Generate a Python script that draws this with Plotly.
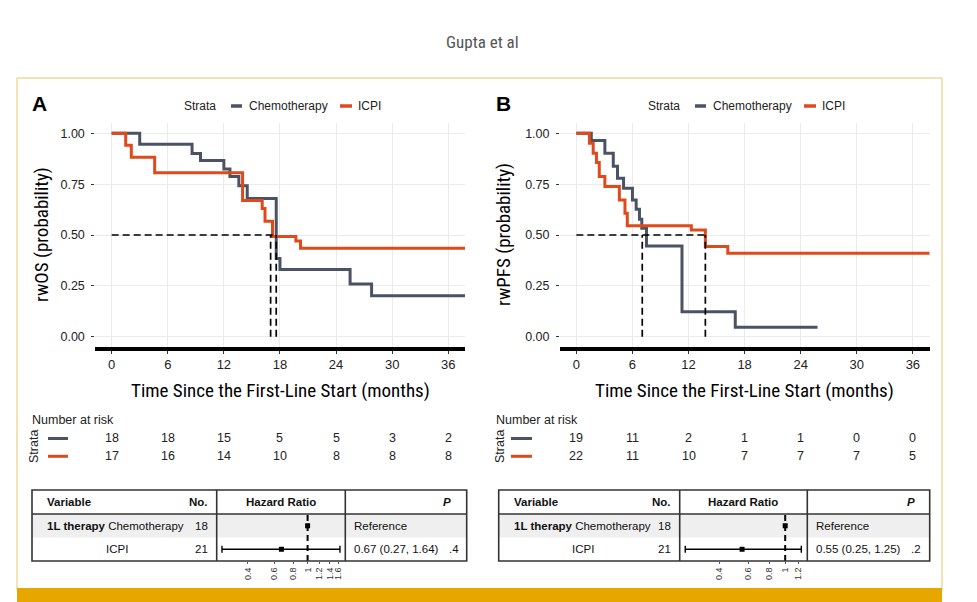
import plotly.graph_objects as go

# The page body has an 8px margin; the figure is sized to fill the rest of the 977x602 window
OFF = 8
W, H = 977 - OFF, 602 - OFF


def X(px):
    return (px - OFF) / W


def Y(py):
    return 1 - (py - OFF) / H


# ------------------------------------------------------------------ data
strata = ["Chemotherapy", "ICPI"]
month_ticks = [0, 6, 12, 18, 24, 30, 36]
surv_ticks = [0, 0.25, 0.5, 0.75, 1.0]
surv_ticktext = ["0.00", "0.25", "0.50", "0.75", "1.00"]

# Panel A: rwOS
os_chemo_t = [0, 3.0, 8.6, 9.5, 12.0, 12.65, 13.6, 14.5, 17.6, 18.0, 25.5, 27.8, 37.8]
os_chemo_s = [1.0, 0.946, 0.901, 0.866, 0.825, 0.787, 0.742, 0.680, 0.385, 0.331, 0.259, 0.202, 0.202]
os_icpi_t = [0, 1.5, 2.1, 4.6, 14.0, 16.1, 16.4, 17.2, 19.7, 20.2, 37.8]
os_icpi_s = [1.0, 0.941, 0.882, 0.806, 0.669, 0.630, 0.567, 0.493, 0.470, 0.435, 0.435]
os_median = [17.0, 17.6]

# Panel B: rwPFS
pfs_chemo_t = [0, 1.6, 3.05, 3.95, 4.4, 5.05, 6.0, 6.4, 6.75, 7.0, 7.5, 11.3, 17.0, 25.8]
pfs_chemo_s = [1.0, 0.964, 0.902, 0.838, 0.779, 0.730, 0.672, 0.627, 0.577, 0.533, 0.446, 0.123, 0.046, 0.046]
pfs_icpi_t = [0, 1.4, 1.8, 2.15, 2.45, 3.05, 4.6, 5.2, 5.45, 12.3, 13.8, 16.2, 37.8]
pfs_icpi_s = [1.0, 0.951, 0.902, 0.856, 0.787, 0.738, 0.672, 0.607, 0.545, 0.525, 0.443, 0.410, 0.410]
pfs_median = [7.05, 13.8]

# Number at risk
risk_os_chemo = [18, 18, 15, 5, 5, 3, 2]
risk_os_icpi = [17, 16, 14, 10, 8, 8, 8]
risk_pfs_chemo = [19, 11, 2, 1, 1, 0, 0]
risk_pfs_icpi = [22, 11, 10, 7, 7, 7, 5]

# Cox model (forest)
forest_n = [18, 21]
os_hr = [1.0, 0.67]
os_lo = [None, 0.27]
os_hi = [None, 1.64]
os_p = ".4"
pfs_hr = [1.0, 0.55]
pfs_lo = [None, 0.25]
pfs_hi = [None, 1.25]
pfs_p = ".2"
os_hr_ticks = [0.4, 0.6, 0.8, 1, 1.2, 1.4, 1.6]
pfs_hr_ticks = [0.4, 0.6, 0.8, 1, 1.2]

# ------------------------------------------------------------------ style
C_CHEMO = "#4A5365"
C_ICPI = "#DF4A1B"
GOLD = "#E8A600"
NARROW = "Liberation Sans Narrow, Arial Narrow, Roboto Condensed, sans-serif"
SANS = "Liberation Sans, Arial, sans-serif"
colors = {"Chemotherapy": C_CHEMO, "ICPI": C_ICPI}

fig = go.Figure()
shapes = []
annotations = []


def note(text, x, y, xanchor="center", yanchor="middle", size=12, family=SANS, color="#222",
         angle=0, xref="paper"):
    annotations.append(dict(text=text, x=x if xref != "paper" else X(x), y=Y(y), xref=xref, yref="paper",
                            xanchor=xanchor, yanchor=yanchor, showarrow=False, textangle=angle,
                            font=dict(family=family, size=size, color=color)))


panels = [
    dict(name="A", xa="x", ya="y", xa3="x3", ya3="y3",
         curves=[(os_chemo_t, os_chemo_s, "Chemotherapy"), (os_icpi_t, os_icpi_s, "ICPI")],
         median=os_median, risk=[risk_os_chemo, risk_os_icpi],
         hr=os_hr, lo=os_lo, hi=os_hi, p=os_p, hr_ticks=os_hr_ticks,
         ytitle="rwOS (probability)",
         xdom=(95.3, 465.1), letter_x=30, ytitle_x=41, legend_x=182,
         risk_label_x=30, strata_x=34, seg=(48, 68),
         tbl=(32, 216.7, 345.3, 466.7), var_x=45, no_x=209.5, hr_c=281, p_x=453,
         ref_x=351.5, pv_x=446.5, icpi_c=116.5, hr_range=(-0.6036, 0.2503)),
    dict(name="B", xa="x2", ya="y2", xa3="x4", ya3="y4",
         curves=[(pfs_chemo_t, pfs_chemo_s, "Chemotherapy"), (pfs_icpi_t, pfs_icpi_s, "ICPI")],
         median=pfs_median, risk=[risk_pfs_chemo, risk_pfs_icpi],
         hr=pfs_hr, lo=pfs_lo, hi=pfs_hi, p=pfs_p, hr_ticks=pfs_hr_ticks,
         ytitle="rwPFS (probability)",
         xdom=(560.0, 929.7), letter_x=494, ytitle_x=503, legend_x=646,
         risk_label_x=494, strata_x=500, seg=(511, 532),
         tbl=(498.7, 679.7, 807.3, 929.7), var_x=512, no_x=672.5, hr_c=743, p_x=917,
         ref_x=814, pv_x=908.5, icpi_c=583, hr_range=(-0.6355, 0.1331)),
]

# outer golden frame
shapes.append(dict(type="rect", xref="paper", yref="paper", x0=X(17), x1=X(942), y0=Y(590), y1=Y(78),
                   line=dict(color="#EBC66A", width=1), fillcolor="rgba(0,0,0,0)", layer="below"))
shapes.append(dict(type="rect", xref="paper", yref="paper", x0=X(17), x1=X(942), y0=Y(602), y1=Y(588),
                   line=dict(width=0), fillcolor=GOLD))
note("Gupta et al", 482, 42, size=17, family=NARROW, color="#555555")

layout_axes = {}

for P in panels:
    xa, ya = P["xa"], P["ya"]
    xkey = "xaxis" if xa == "x" else "xaxis" + xa[1:]
    ykey = "yaxis" if ya == "y" else "yaxis" + ya[1:]

    # KM curves
    for t, s, nm in P["curves"]:
        fig.add_trace(go.Scatter(x=t, y=s, mode="lines", line=dict(color=colors[nm], width=3, shape="hv"),
                                 xaxis=xa, yaxis=ya, showlegend=False, name=nm))
    # median lines
    mx = max(P["median"])
    fig.add_trace(go.Scatter(x=[0, mx], y=[0.5, 0.5], mode="lines",
                             line=dict(color="black", width=1.7, dash="7px,4px"),
                             xaxis=xa, yaxis=ya, showlegend=False, hoverinfo="skip"))
    for m in P["median"]:
        fig.add_trace(go.Scatter(x=[m, m], y=[0, 0.5], mode="lines",
                                 line=dict(color="black", width=1.7, dash="7px,4px"),
                                 xaxis=xa, yaxis=ya, showlegend=False, hoverinfo="skip"))

    layout_axes[xkey] = dict(domain=[X(P["xdom"][0]), X(P["xdom"][1])], range=[-1.75, 37.8],
                             anchor=ya, tickvals=month_ticks, showgrid=True, gridcolor="#EBEBEB",
                             gridwidth=1, zeroline=False, showline=True, linecolor="black", linewidth=3.5,
                             ticks="outside", ticklen=3, tickcolor="#333", tickwidth=1,
                             tickfont=dict(family=SANS, size=13, color="#222"))
    layout_axes[ykey] = dict(domain=[Y(346.9), Y(123.1)], range=[-0.05, 1.05], anchor=xa,
                             tickvals=surv_ticks, ticktext=surv_ticktext, showgrid=True,
                             gridcolor="#EBEBEB", gridwidth=1, zeroline=False, showline=False,
                             ticks="outside", ticklen=3, tickcolor="#333", tickwidth=1,
                             ticklabelstandoff=4,
                             tickfont=dict(family=SANS, size=12.5, color="#222"))

    # axis titles
    xc = (P["xdom"][0] + P["xdom"][1]) / 2
    note("Time Since the First-Line Start (months)", xc, 390, size=19, family=NARROW, color="black")
    note(P["ytitle"], P["ytitle_x"], 235, size=19, family=NARROW, color="black", angle=-90)
    # panel letter
    note("<b>%s</b>" % P["name"], P["letter_x"], 103, xanchor="left", size=21, color="black")
    # legend (manual)
    lx = P["legend_x"]
    note("Strata", lx, 106, xanchor="left")
    shapes.append(dict(type="line", xref="paper", yref="paper", x0=X(lx + 49), x1=X(lx + 60),
                       y0=Y(106), y1=Y(106), line=dict(color=C_CHEMO, width=3.5)))
    note("Chemotherapy", lx + 65, 106, xanchor="left")
    shapes.append(dict(type="line", xref="paper", yref="paper", x0=X(lx + 158), x1=X(lx + 170),
                       y0=Y(106), y1=Y(106), line=dict(color=C_ICPI, width=3.5)))
    note("ICPI", lx + 174, 106, xanchor="left")

    # number at risk
    note("Number at risk", P["risk_label_x"], 420, xanchor="left", size=12.5)
    note("Strata", P["strata_x"], 447, angle=-90, size=12.5)
    for row, (vals, nm) in enumerate(zip(P["risk"], strata)):
        yy = 438.5 + row * 17.8
        shapes.append(dict(type="line", xref="paper", yref="paper", x0=X(P["seg"][0]), x1=X(P["seg"][1]),
                           y0=Y(yy), y1=Y(yy), line=dict(color=colors[nm], width=3)))
        for t, v in zip(month_ticks, vals):
            note(str(v), t, yy, xref=xa, size=12.5)

    # ---- forest table
    L, c1, c2, R = P["tbl"]
    top, hdr, r1, bot = 490, 514, 537.5, 561
    shapes.append(dict(type="rect", xref="paper", yref="paper", x0=X(L), x1=X(R), y0=Y(r1), y1=Y(hdr),
                       line=dict(width=0), fillcolor="#EFEFEF", layer="below"))
    shapes.append(dict(type="rect", xref="paper", yref="paper", x0=X(L), x1=X(R), y0=Y(bot), y1=Y(top),
                       line=dict(color="#333", width=1.6), fillcolor="rgba(0,0,0,0)"))
    shapes.append(dict(type="line", xref="paper", yref="paper", x0=X(L), x1=X(R), y0=Y(hdr), y1=Y(hdr),
                       line=dict(color="#333", width=1.6)))
    for cx in (c1, c2):
        shapes.append(dict(type="line", xref="paper", yref="paper", x0=X(cx), x1=X(cx), y0=Y(bot), y1=Y(top),
                           line=dict(color="#333", width=1.6)))

    def txt(s, x, y, anchor="left", bold=False):
        note(("<b>%s</b>" % s) if bold else s, x, y, xanchor=anchor, size=11.5, color="#111")

    yh, y1r, y2r = 501.7, 525.7, 548.5
    txt("Variable", P["var_x"], yh, bold=True)
    txt("No.", P["no_x"], yh, "right", bold=True)
    txt("Hazard Ratio", P["hr_c"], yh, "center", bold=True)
    txt("<i>P</i>", P["p_x"], yh, "right", bold=True)
    txt("<b>1L therapy</b> " + strata[0], P["var_x"], y1r)
    txt(str(forest_n[0]), P["no_x"], y1r, "right")
    txt("Reference", P["ref_x"], y1r)
    txt(strata[1], P["icpi_c"], y2r, "center")
    txt(str(forest_n[1]), P["no_x"], y2r, "right")
    txt("%.2f (%.2f, %.2f)" % (P["hr"][1], P["lo"][1], P["hi"][1]), P["ref_x"], y2r)
    txt(P["p"], P["pv_x"], y2r)

    xa3, ya3 = P["xa3"], P["ya3"]
    rows_y = [len(strata) - i - 0.5 for i in range(len(strata))]
    fig.add_trace(go.Scatter(x=[1, 1], y=[0, len(strata)], mode="lines",
                             line=dict(color="black", width=2, dash="6px,4px"),
                             xaxis=xa3, yaxis=ya3, showlegend=False, hoverinfo="skip"))
    for i in range(len(strata)):
        if P["lo"][i] is not None:
            fig.add_trace(go.Scatter(x=[P["lo"][i], P["hi"][i]], y=[rows_y[i]] * 2, mode="lines+markers",
                                     line=dict(color="black", width=1.6),
                                     marker=dict(symbol="line-ns", size=5, line=dict(color="black", width=1.4)),
                                     xaxis=xa3, yaxis=ya3, showlegend=False, hoverinfo="skip"))
        fig.add_trace(go.Scatter(x=[P["hr"][i]], y=[rows_y[i]], mode="markers",
                                 marker=dict(symbol="square", size=5, color="black"),
                                 xaxis=xa3, yaxis=ya3, showlegend=False))
    x3key = "xaxis" + xa3[1:]
    y3key = "yaxis" + ya3[1:]
    layout_axes[x3key] = dict(domain=[X(c1), X(c2)], type="log", range=list(P["hr_range"]), anchor=ya3,
                              tickvals=P["hr_ticks"], ticktext=[("%g" % v) for v in P["hr_ticks"]],
                              tickangle=-90, ticks="outside", ticklen=2, tickcolor="#555",
                              showgrid=False, zeroline=False, showline=False,
                              tickfont=dict(family=SANS, size=9, color="#333"))
    layout_axes[y3key] = dict(domain=[Y(bot), Y(hdr)], range=[0, len(strata)], anchor=xa3,
                              visible=False, showgrid=False, zeroline=False)

fig.update_layout(
    width=W, height=H, margin=dict(l=0, r=0, t=0, b=0),
    paper_bgcolor="white", plot_bgcolor="rgba(0,0,0,0)",
    showlegend=False, shapes=shapes, annotations=annotations,
    font=dict(family=SANS, color="#222"),
    **layout_axes,
)

fig.write_html("out.html")
